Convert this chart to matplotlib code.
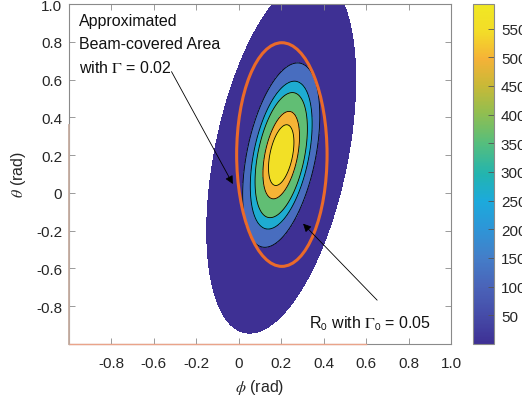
import numpy as np
import matplotlib
matplotlib.use("Agg")
import matplotlib.pyplot as plt
from matplotlib.colors import LinearSegmentedColormap, Normalize
from matplotlib.cm import ScalarMappable
from matplotlib.patches import Ellipse

plt.rcParams['font.family'] = ['Liberation Sans', 'DejaVu Sans']
plt.rcParams['mathtext.fontset'] = 'stix'

# ---------------- data ----------------
peak_value = 593.0
beam_center = (0.2, 0.2)
beam_cov = [[0.1225, 0.14], [0.14, 0.884]]
profile_scale = 0.444
profile_power = 3.0
contour_levels = [0.006, 120, 260, 360, 500, 560, 600]

gamma_center = (0.203, 0.203)
gamma_width = 0.426
gamma_height = 1.184

xtick_pos = [-0.6, -0.4, -0.2, 0.0, 0.2, 0.4, 0.6, 0.8, 1.0]
xtick_labels = ['-0.8', '-0.6', '-0.2', '0', '0.2', '0.4', '0.6', '0.8', '1.0']
ytick_pos = [-0.6, -0.4, -0.2, 0.0, 0.2, 0.4, 0.6, 0.8, 1.0]
ytick_labels = ['-0.8', '-0.6', '-0.2', '0', '0.2', '0.4', '0.6', '0.8', '1.0']
cbar_ticks = [50, 100, 150, 200, 250, 300, 350, 400, 450, 500, 550]

label1 = 'Approximated\nBeam-covered Area\nwith $\\Gamma$ = 0.02'
label2 = 'R$_\\mathsf{0}$ with $\\Gamma_\\mathsf{0}$ = 0.05'
arrow1_from, arrow1_to = (-0.317, 0.642), (-0.028, 0.047)
arrow2_from, arrow2_to = (0.652, -0.568), (0.303, -0.163)

# parula-like colormap (as it appears in the reference)
cmap_anchors = [
    (0.00, (62, 48, 148)), (0.09, (70, 78, 170)), (0.17, (74, 100, 185)),
    (0.25, (68, 125, 200)), (0.34, (45, 150, 215)), (0.42, (28, 170, 220)),
    (0.50, (35, 180, 175)), (0.59, (85, 190, 125)), (0.68, (145, 190, 80)),
    (0.76, (200, 185, 55)), (0.84, (245, 178, 55)), (0.92, (243, 220, 40)),
    (1.00, (240, 232, 35)),
]
cmap = LinearSegmentedColormap.from_list(
    'parula_like', [(p, tuple(c / 255 for c in rgb)) for p, rgb in cmap_anchors], N=256)
norm = Normalize(0, peak_value)

# ---------------- surface ----------------
x = np.linspace(-0.8, 1.0, 500)
y = np.linspace(-0.8, 1.0, 500)
X, Y = np.meshgrid(x, y)
inv = np.linalg.inv(np.array(beam_cov))
dx, dy = X - beam_center[0], Y - beam_center[1]
Q = inv[0, 0] * dx ** 2 + 2 * inv[0, 1] * dx * dy + inv[1, 1] * dy ** 2
Z = peak_value * np.exp(-(np.sqrt(Q) / profile_scale) ** profile_power)

fig = plt.figure(figsize=(5.22, 4.02), dpi=100)
W, H = 522, 402
ax = fig.add_axes([69 / W, 1 - 345 / H, 382 / W, 340 / H])

band_colors = [cmap(norm(v)) for v in contour_levels[:-1]]
ax.contourf(X, Y, Z, levels=contour_levels, colors=band_colors)
ax.contour(X, Y, Z, levels=contour_levels[1:-1], colors='k', linewidths=0.6)

ax.add_patch(Ellipse(gamma_center, gamma_width, gamma_height, fill=False,
                     edgecolor='#ea6a2a', lw=2.2, zorder=5))

ax.text(-0.752, 0.95, label1, ha='left', va='top', fontsize=11.5,
        linespacing=1.62, color='#111111', zorder=6)
ax.text(0.331, -0.716, label2, ha='left', va='baseline', fontsize=11.5,
        color='#111111', zorder=6)
for a, b in [(arrow1_from, arrow1_to), (arrow2_from, arrow2_to)]:
    ax.annotate('', xy=b, xytext=a,
                arrowprops=dict(arrowstyle='-|>', color='k', lw=0.6,
                                shrinkA=0, shrinkB=0, mutation_scale=12),
                zorder=7)

ax.set_xlim(-0.8, 1.0)
ax.set_ylim(-0.8, 1.0)
ax.set_xticks(xtick_pos)
ax.set_xticklabels(xtick_labels)
ax.set_yticks(ytick_pos)
ax.set_yticklabels(ytick_labels)
ax.tick_params(direction='in', length=4, width=0.6, color='#8a8a8a',
               labelcolor='#262626', labelsize=11, top=True, right=True)
ax.tick_params(axis='x', pad=9)
ax.tick_params(axis='y', pad=5)
for s in ax.spines.values():
    s.set_color('#8a8a8a')
    s.set_linewidth(0.8)

ax.set_xlabel('$\\phi$ (rad)', fontsize=11.5, color='#262626', labelpad=5)
ax.set_ylabel('$\\theta$ (rad)', fontsize=11.5, color='#262626', labelpad=6)

# faint tint on parts of the axis lines as in the reference
ax.plot([-0.8, 0.6], [-0.8, -0.8], color='#eaa48a', lw=1.0, clip_on=False, zorder=8)
ax.plot([-0.8, -0.8], [-0.8, 0.36], color='#c4aca0', lw=1.3, clip_on=False, zorder=8)

cax = fig.add_axes([473 / W, 1 - 345 / H, 21 / W, 340 / H])
cb = fig.colorbar(ScalarMappable(norm=norm, cmap=cmap), cax=cax, ticks=cbar_ticks)
cb.outline.set_edgecolor('#8a8a8a')
cb.outline.set_linewidth(0.8)
cax.tick_params(direction='in', length=4, width=0.6, color='#555555',
                labelcolor='#262626', labelsize=11, pad=5)

fig.savefig('out.png', dpi=100)
